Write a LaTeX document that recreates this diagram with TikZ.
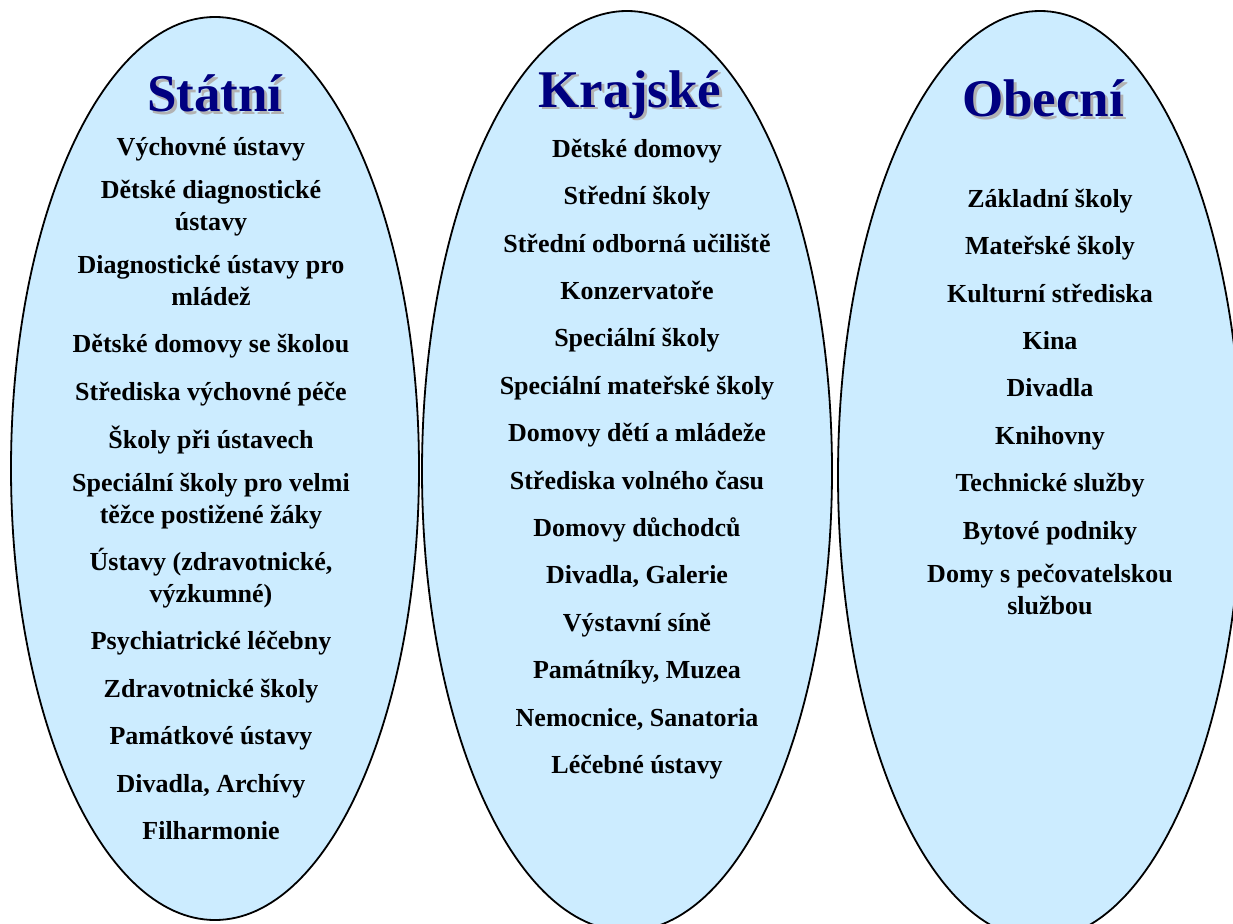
\documentclass[tikz,border=0pt]{standalone}
\usepackage{fontspec}
\setmainfont{Liberation Serif}
\usetikzlibrary{positioning}
\definecolor{ovalfill}{RGB}{204,236,255}
\definecolor{navy}{RGB}{0,0,128}
\newcommand{\heading}[3]{
    \node[headshadow,xshift=3pt,yshift=-3pt] (#1-sh) at (#2) {#3};
    \node[headtext] (#1) at (#2) {#3};
}

\begin{document}
\begin{tikzpicture}[
        x=1pt, y=-1pt,
        oval/.style={
            fill=ovalfill,
            draw=black,
            line width=1.8pt,
        },
        headtext/.style={
            anchor=base,
            inner sep=0pt,
            text=navy,
            font=\fontsize{53}{53}\selectfont\bfseries,
        },
        headshadow/.style={
            headtext,
            text=black!30,
        },
        item/.style={
            align=center,
            inner sep=0pt,
            font=\fontsize{26}{31.5}\selectfont\bfseries,
            execute at begin node=\strut,
            execute at end node=\strut,
        },
        node distance=15.5pt,
    ]
    \clip (0,0) rectangle (1233,923);
    \draw[oval] (215,468.5) ellipse [x radius=204, y radius=451.5];
    \draw[oval] (627,471) ellipse [x radius=205, y radius=460];
    \draw[oval] (1040,475) ellipse [x radius=202, y radius=464];

    % Statni
    \heading{stat}{215,112}{Státní}
    \node[item] (s1) at (211,149) {Výchovné ústavy};
    \foreach \txt [count=\i from 2, remember=\i as \j (initially 1)] in {
        {Dětské diagnostické\\ ústavy},
        {Diagnostické ústavy pro\\ mládež},
        {Dětské domovy se školou},
        {Střediska výchovné péče},
        {Školy při ústavech},
        {Speciální školy pro velmi\\ těžce postižené žáky},
        {Ústavy (zdravotnické,\\ výzkumné)},
        {Psychiatrické léčebny},
        {Zdravotnické školy},
        {Památkové ústavy},
        {Divadla, Archívy},
        {Filharmonie}}{
        \node[item, below=of s\j] (s\i) {\txt};
    }

    % Krajske
    \heading{kraj}{630,107}{Krajské}
    \node[item] (k1) at (637,151) {Dětské domovy};
    \foreach \txt [count=\i from 2, remember=\i as \j (initially 1)] in {
        {Střední školy},
        {Střední odborná učiliště},
        {Konzervatoře},
        {Speciální školy},
        {Speciální mateřské školy},
        {Domovy dětí a mládeže},
        {Střediska volného času},
        {Domovy důchodců},
        {Divadla, Galerie},
        {Výstavní síně},
        {Památníky, Muzea},
        {Nemocnice, Sanatoria},
        {Léčebné ústavy}}{
        \node[item, below=of k\j] (k\i) {\txt};
    }

    % Obecni
    \heading{obec}{1043,117}{Obecní}
    \node[item] (o1) at (1050,201) {Základní školy};
    \foreach \txt [count=\i from 2, remember=\i as \j (initially 1)] in {
        {Mateřské školy},
        {Kulturní střediska},
        {Kina},
        {Divadla},
        {Knihovny},
        {Technické služby},
        {Bytové podniky},
        {Domy s pečovatelskou\\ službou}}{
        \node[item, below=of o\j] (o\i) {\txt};
    }
\end{tikzpicture}
\end{document}
